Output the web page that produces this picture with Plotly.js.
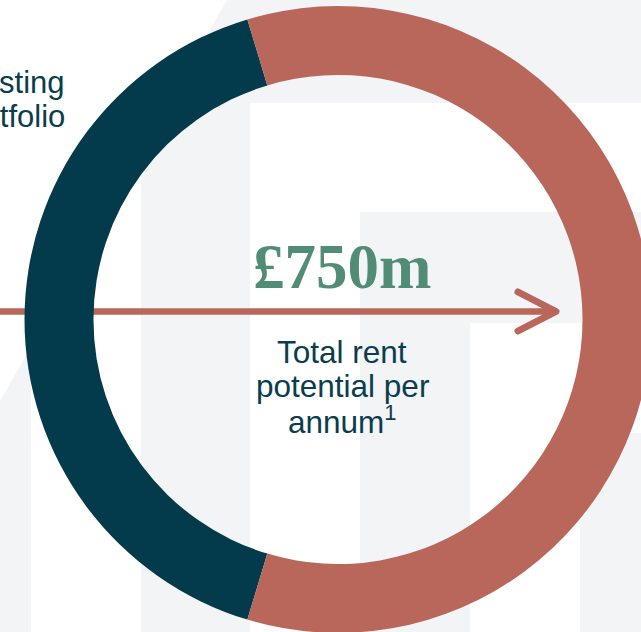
<!DOCTYPE html>
<html>
<head>
<meta charset="utf-8">
<script src="https://cdn.plot.ly/plotly-3.0.1.min.js"></script>
<style>
  html, body { margin: 0; padding: 0; overflow: hidden; background: #ffffff; }
  #chart { width: 680px; height: 660px; }
</style>
</head>
<body>
<div id="chart"></div>
<script>
// ---- data ----
const segmentLabels = ['Existing portfolio', 'Additional rent potential'];
const segmentValues = [305, 445];           // £m per annum (read from ring proportions)
const segmentColors = ['#033b4c', '#b9675a'];
const totalLabel = '£750m';
const centreLines = ['Total rent', 'potential per', 'annum<sup>1</sup>'];
const sideLines = ['Existing', 'portfolio'];

// ---- canvas helpers (pixel -> paper) ----
const W = 680, H = 660;
const px = x => x / W;
const py = y => 1 - y / H;

const GREY = '#f2f4f6';
const RED = segmentColors[1];
const NAVY = '#0a3d4d';
const GREEN = '#508c76';

function rect(x0, y0, x1, y1, color) {
  return {type: 'rect', xref: 'paper', yref: 'paper', layer: 'below',
    x0: px(x0), x1: px(x1), y0: py(y1), y1: py(y0),
    fillcolor: color, line: {width: 0}};
}
function path(pts, opts) {
  const d = pts.map((p, i) => (i ? 'L' : 'M') + px(p[0]).toFixed(5) + ',' + py(p[1]).toFixed(5)).join(' ') + (opts.close ? ' Z' : '');
  return Object.assign({type: 'path', xref: 'paper', yref: 'paper', layer: 'below', path: d}, opts.style);
}

const shapes = [
  // stepped background pattern
  rect(-90, -10, 31, H, GREY),
  rect(141, -10, 250, H, GREY),
  rect(141, -10, W + 10, 103, GREY),
  rect(360, 212, 470, H, GREY),
  rect(360, 212, W + 10, 323, GREY),
  rect(580, 433, 690, H, GREY),
  rect(580, 433, W + 10, 543, GREY),
  // diagonal white cut on the left
  path([[-200, -10], [232.7, -10], [-152, H + 10], [-200, H + 10]],
       {close: true, style: {fillcolor: '#ffffff', line: {width: 0}}}),
  // arrow shaft
  {type: 'line', xref: 'paper', yref: 'paper', layer: 'below',
   x0: px(-10), x1: px(554), y0: py(311.5), y1: py(311.5),
   line: {color: RED, width: 6.5}},
  // arrow head
  path([[518, 292], [556, 311.5], [518, 331]],
       {close: false, style: {fillcolor: 'rgba(0,0,0,0)', line: {color: RED, width: 7}}})
];

const total = segmentValues.reduce((a, b) => a + b, 0);
const rotation = 270 - 180 * segmentValues[0] / total - 360;

// ring geometry in px
const cx = 338, cy = 319.5, R = 313.5;

const trace = {
  type: 'pie',
  labels: segmentLabels,
  values: segmentValues,
  marker: {colors: segmentColors, line: {width: 0}},
  hole: 0.78,
  sort: false,
  direction: 'clockwise',
  rotation: rotation,
  textinfo: 'none',
  hoverinfo: 'skip',
  showlegend: false,
  domain: {x: [px(cx - R), px(cx + R)], y: [py(cy + R), py(cy - R)]}
};

const sans = 'Liberation Sans, Arial, sans-serif';
const annotations = [
  {text: '<b>' + totalLabel + '</b>', x: px(342), y: py(267), xref: 'paper', yref: 'paper',
   xanchor: 'center', yanchor: 'middle', showarrow: false,
   font: {family: 'Liberation Serif, Times New Roman, serif', size: 63, color: GREEN}},
];
const centreBase = [352, 386, 420];
centreLines.forEach((t, i) => annotations.push({
  text: t, x: px(342), y: py(centreBase[i]), xref: 'paper', yref: 'paper',
  xanchor: 'center', yanchor: 'middle', showarrow: false,
  font: {family: sans, size: 31.5, color: NAVY}}));
const sideBase = [83, 116];
sideLines.forEach((t, i) => annotations.push({
  text: t, x: px(66.5), y: py(sideBase[i]), xref: 'paper', yref: 'paper',
  xanchor: 'right', yanchor: 'middle', align: 'right', showarrow: false,
  font: {family: sans, size: 31, color: NAVY}}));

const layout = {
  width: W, height: H,
  margin: {l: 0, r: 0, t: 0, b: 0, pad: 0},
  paper_bgcolor: '#ffffff',
  plot_bgcolor: '#ffffff',
  showlegend: false,
  shapes: shapes,
  annotations: annotations
};

Plotly.newPlot('chart', [trace], layout, {staticPlot: true, displayModeBar: false}).then(() => {
  document.querySelectorAll('.shapelayer path').forEach(p => {
    p.style.strokeLinecap = 'round';
    p.style.strokeLinejoin = 'round';
  });
});
</script>
</body>
</html>
